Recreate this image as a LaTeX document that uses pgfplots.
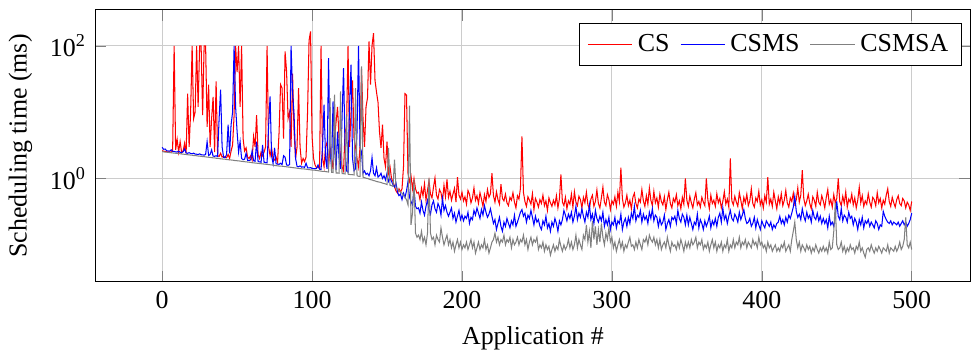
\documentclass[border=0pt]{standalone}
\usepackage{fontspec}
\setmainfont{Liberation Serif}
\usepackage{pgfplots}
\usepackage{pgfplotstable}
\pgfplotsset{compat=1.18}
\pgfplotstableread{
x r b g
0 2.62 2.95 2.55
1 2.58 2.75 2.52
2 2.55 2.78 2.50
3 2.54 2.62 2.49
4 2.50 2.60 2.47
5 2.52 2.58 2.46
6 2.49 2.70 2.44
7 2.60 2.56 2.43
8 100 2.55 2.41
9 2.70 2.52 2.40
10 3.9 2.50 2.39
11 2.5 2.58 2.37
12 3.6 2.48 2.36
13 2.45 2.46 2.34
14 2.6 2.52 2.33
15 3.4 2.8 2.31
16 2.4 2.42 2.30
17 19 2.40 2.28
18 3.0 2.45 2.27
19 10 2.38 2.25
20 100 2.36 2.24
21 8 2.41 2.22
22 10 2.33 2.21
23 100 2.32 2.20
24 12 2.30 2.18
25 100 2.35 2.17
26 100 2.28 2.16
27 9 2.27 2.14
28 100 2.25 2.13
29 100 2.30 2.12
30 6 3.6 2.10
31 26 2.22 2.09
32 3 2.30 2.08
33 8 2.7 2.06
34 17 2.17 2.05
35 2.5 2.16 2.04
36 29 2.20 2.02
37 2.2 2.14 2.01
38 2.15 8 2.00
39 2.4 21.8 1.98
40 2.1 3.0 1.97
41 2.15 2.08 1.96
42 2.1 2.06 1.95
43 2.05 2.3 1.93
44 2.3 6.5 1.92
45 2.0 2.4 1.91
46 2.6 6.5 1.90
47 3.2 10 1.89
48 9 100 1.87
49 100 12 1.86
50 40 5.1 1.85
51 100 2.5 1.84
52 12 3.6 1.83
53 100 2.0 1.81
54 4 1.92 1.80
55 2.6 1.95 1.79
56 2.9 2.4 1.78
57 2.1 1.88 1.77
58 2.0 1.87 1.76
59 2.2 1.90 1.75
60 1.9 2.6 1.73
61 4.3 1.85 1.72
62 3.0 1.82 1.71
63 9 3.6 1.70
64 2.3 1.80 1.69
65 2.0 1.78 1.68
66 2.5 1.76 1.67
67 2.2 3.2 1.66
68 2.5 1.75 1.65
69 3.0 1.74 1.64
70 100 1.72 1.63
71 3.0 6 1.62
72 2.2 17.3 1.61
73 2.9 2.2 1.60
74 2.0 1.68 1.59
75 1.9 2.9 1.57
76 2.1 1.66 1.56
77 1.75 1.65 1.55
78 5 1.63 1.54
79 26 1.70 1.53
80 23 1.62 1.53
81 4 2.2 1.52
82 82 2.1 1.51
83 41 1.60 1.50
84 8 1.58 1.49
85 10 1.62 1.48
86 3 100 1.47
87 38 20 1.46
88 5 9.2 1.45
89 2.0 2.0 1.44
90 3.0 1.52 1.43
91 23 1.50 1.42
92 3 1.55 1.41
93 1.7 1.48 1.40
94 2.0 1.50 1.40
95 1.8 1.47 1.39
96 2.1 1.7 1.38
97 10 1.45 1.37
98 120 1.44 1.36
99 165 1.46 1.35
100 4.3 1.42 1.34
101 2.0 1.41 1.34
102 1.6 1.40 1.33
103 1.45 1.42 1.32
104 1.5 1.6 1.31
105 1.4 1.38 1.30
106 100 1.37 1.29
107 2.0 3.0 1.28
108 1.5 13 1.28
109 3.0 2.0 1.27
110 3.5 1.4 1.26
111 1.5 65 1.25
112 3.0 2.5 16.3
113 2.0 1.5 1.24
114 1.4 14.5 1.23
115 4 3.0 18.3
116 7 1.35 1.21
117 12 5.1 1.21
118 4 2.0 1.20
119 2.0 1.4 20.5
120 1.5 8 1.18
121 1.3 46 1.18
122 5 3.0 1.17
123 6 1.3 9.2
124 100 1.25 1.16
125 3 12 1.15
126 10 52 1.14
127 30 2.0 1.14
128 4 1.3 1.13
129 3 1.4 23
130 2.0 5 1.10
131 1.5 100 1.08
132 3 3 1.07
133 45 2.5 49
134 8 1.2 1.04
135 3 1.3 1.03
136 12 1.15 1.01
137 16.5 1.2 1.00
138 116 1.1 0.98
139 26 1.3 0.96
140 100 2.07 0.95
141 155 1.2 0.93
142 30 1.1 0.92
143 20 1.45 0.90
144 14 1.05 0.89
145 5 1.1 0.88
146 2.9 1.2 0.87
147 6.5 1.0 0.85
148 2.0 1.1 0.84
149 1.5 0.95 0.83
150 3.6 1.2 0.81
151 1.2 0.9 2.9
152 1.5 1.0 0.79
153 1.0 0.91 0.78
154 0.9 0.8 0.76
155 0.75 0.75 1.93
156 0.65 0.85 0.72
157 0.6 0.62 0.69
158 0.7 0.55 0.66
159 0.62 0.58 0.62
160 0.7 0.48 0.60
161 1.5 0.6 0.56
162 19 0.52 0.52
163 18 0.65 0.48
164 1.2 0.9 0.40
165 0.9 0.52 12.5
166 1.1 0.45 0.20
167 0.7 0.40 0.30
168 1.0 0.70 0.95
169 0.7 0.38 0.15
170 0.6 0.35 0.13
171 0.62 0.36 0.14
172 0.48 0.30 0.12
173 0.71 0.44 0.16
174 0.55 0.33 0.11
175 0.83 0.28 0.13
176 0.47 0.38 0.10
177 0.66 0.47 0.15
178 0.92 0.34 1.00
179 0.58 0.29 0.15
180 0.51 0.40 0.12
181 0.74 0.46 0.13
182 1.02 0.35 0.10
183 0.56 0.31 0.14
184 0.49 0.42 0.12
185 0.68 0.37 0.11
186 0.61 0.28 0.18
187 0.45 0.50 0.13
188 0.79 0.33 0.10
189 0.53 0.39 0.12
190 0.97 0.31 0.14
191 0.52 0.27 0.10
192 0.64 0.31 0.12
193 0.47 0.36 0.09
194 0.58 0.25 0.11
195 0.71 0.30 0.08
196 0.44 0.22 0.10
197 1.05 0.27 0.12
198 0.56 0.33 0.09
199 0.49 0.24 0.11
200 0.62 0.28 0.085
201 0.46 0.23 0.10
202 0.53 0.27 0.09
203 0.41 0.25 0.11
204 0.66 0.31 0.085
205 0.58 0.21 0.10
206 0.43 0.26 0.12
207 0.51 0.24 0.09
208 0.72 0.33 0.11
209 0.47 0.28 0.075
210 0.55 0.36 0.09
211 0.42 0.30 0.11
212 0.61 0.25 0.085
213 0.49 0.34 0.10
214 0.38 0.28 0.09
215 0.57 0.39 0.12
216 0.45 0.31 0.085
217 0.68 0.26 0.10
218 0.52 0.29 0.075
219 0.59 0.35 0.09
220 1.20 0.27 0.11
221 0.55 0.21 0.12
222 0.44 0.24 0.15
223 0.63 0.17 0.11
224 0.48 0.21 0.13
225 0.41 0.26 0.10
226 0.82 0.19 0.12
227 0.50 0.16 0.11
228 0.46 0.22 0.14
229 0.58 0.19 0.10
230 0.43 0.25 0.12
231 0.39 0.21 0.11
232 0.52 0.18 0.13
233 0.47 0.23 0.09
234 0.61 0.20 0.12
235 0.44 0.28 0.10
236 0.36 0.19 0.11
237 0.55 0.22 0.13
238 0.49 0.26 0.10
239 0.71 0.31 0.12
240 4.30 0.34 0.11
241 0.62 0.27 0.14
242 0.45 0.30 0.10
243 0.38 0.22 0.12
244 0.53 0.28 0.085
245 0.47 0.25 0.11
246 0.41 0.33 0.13
247 0.59 0.26 0.10
248 0.34 0.20 0.12
249 0.50 0.27 0.11
250 0.44 0.22 0.13
251 0.37 0.24 0.085
252 0.48 0.19 0.10
253 0.42 0.17 0.09
254 0.56 0.23 0.11
255 0.39 0.20 0.08
256 0.46 0.27 0.10
257 0.33 0.18 0.085
258 0.51 0.21 0.095
259 0.43 0.16 0.07
260 0.38 0.22 0.085
261 0.47 0.19 0.10
262 0.40 0.25 0.08
263 0.55 0.21 0.095
264 0.36 0.16 0.085
265 0.49 0.23 0.12
266 1.15 0.20 0.095
267 0.44 0.24 0.08
268 0.39 0.33 0.10
269 0.52 0.28 0.085
270 0.35 0.23 0.095
271 0.46 0.29 0.12
272 0.41 0.25 0.09
273 0.58 0.31 0.11
274 0.37 0.22 0.085
275 0.63 0.27 0.10
276 0.44 0.38 0.14
277 0.39 0.24 0.09
278 0.54 0.30 0.12
279 0.48 0.26 0.10
280 0.36 0.35 0.085
281 0.52 0.27 0.14
282 0.43 0.22 0.12
283 0.62 0.31 0.20
284 0.40 0.26 0.11
285 0.35 0.40 0.16
286 0.49 0.24 0.09
287 0.56 0.29 0.23
288 0.38 0.21 0.12
289 0.45 0.33 0.19
290 0.67 0.25 0.10
291 0.42 0.22 0.17
292 0.36 0.27 0.11
293 0.51 0.23 0.21
294 0.74 0.31 0.13
295 0.44 0.19 0.10
296 0.39 0.24 0.15
297 0.57 0.20 0.12
298 0.48 0.26 0.18
299 0.34 0.17 0.11
300 0.46 0.22 0.13
301 0.41 0.20 0.09
302 0.53 0.26 0.11
303 0.38 0.18 0.08
304 0.62 0.23 0.10
305 0.45 0.21 0.12
306 1.46 0.29 0.09
307 0.50 0.17 0.11
308 0.37 0.22 0.08
309 0.43 0.25 0.10
310 0.56 0.19 0.09
311 0.39 0.26 0.11
312 0.47 0.21 0.13
313 0.35 0.30 0.095
314 0.52 0.25 0.10
315 0.60 0.38 0.085
316 0.42 0.23 0.11
317 0.36 0.28 0.09
318 0.49 0.26 0.12
319 0.44 0.33 0.10
320 0.68 0.22 0.085
321 0.46 0.29 0.12
322 0.38 0.24 0.11
323 0.55 0.27 0.13
324 0.41 0.21 0.10
325 0.72 0.31 0.14
326 0.47 0.25 0.12
327 0.39 0.35 0.11
328 0.64 0.23 0.13
329 0.43 0.28 0.10
330 0.51 0.26 0.12
331 0.37 0.19 0.09
332 0.58 0.25 0.12
333 0.45 0.20 0.085
334 0.40 0.22 0.10
335 0.53 0.28 0.11
336 0.34 0.17 0.09
337 0.48 0.21 0.13
338 0.62 0.24 0.10
339 0.42 0.19 0.08
340 0.36 0.26 0.11
341 0.50 0.24 0.095
342 0.44 0.27 0.10
343 0.57 0.21 0.085
344 0.39 0.33 0.11
345 0.46 0.25 0.09
346 0.35 0.22 0.12
347 0.52 0.29 0.10
348 0.41 0.26 0.08
349 1.00 0.20 0.11
350 0.47 0.28 0.09
351 0.38 0.20 0.11
352 0.54 0.26 0.09
353 0.43 0.21 0.12
354 0.36 0.17 0.10
355 0.49 0.22 0.11
356 0.61 0.20 0.13
357 0.40 0.29 0.09
358 0.45 0.18 0.11
359 0.37 0.24 0.10
360 0.52 0.21 0.12
361 0.44 0.17 0.085
362 0.39 0.23 0.10
363 1.00 0.19 0.09
364 0.48 0.22 0.11
365 0.35 0.27 0.08
366 0.56 0.18 0.10
367 0.42 0.23 0.12
368 0.47 0.20 0.09
369 0.38 0.25 0.11
370 0.59 0.19 0.08
371 0.43 0.26 0.10
372 0.50 0.30 0.09
373 0.36 0.22 0.11
374 0.45 0.36 0.08
375 0.63 0.24 0.10
376 0.41 0.28 0.09
377 0.49 0.21 0.12
378 0.37 0.27 0.08
379 2.00 0.33 0.10
380 0.46 0.25 0.09
381 0.40 0.23 0.12
382 0.54 0.29 0.09
383 0.44 0.26 0.11
384 0.38 0.22 0.10
385 0.61 0.31 0.13
386 0.47 0.24 0.09
387 0.35 0.28 0.11
388 0.52 0.34 0.10
389 0.43 0.25 0.12
390 0.58 0.21 0.09
391 0.39 0.22 0.11
392 0.46 0.25 0.10
393 0.70 0.19 0.09
394 0.42 0.21 0.12
395 0.37 0.26 0.10
396 0.51 0.18 0.11
397 0.45 0.24 0.09
398 0.64 0.20 0.13
399 0.40 0.17 0.10
400 0.48 0.23 0.11
401 0.36 0.20 0.09
402 0.55 0.18 0.10
403 0.44 0.23 0.08
404 1.05 0.21 0.11
405 0.41 0.19 0.09
406 0.49 0.22 0.10
407 0.38 0.17 0.08
408 0.62 0.20 0.09
409 0.46 0.18 0.10
410 0.35 0.21 0.08
411 0.53 0.22 0.09
412 0.42 0.27 0.08
413 0.59 0.21 0.10
414 0.39 0.24 0.09
415 0.47 0.20 0.11
416 0.66 0.26 0.08
417 0.43 0.22 0.09
418 0.37 0.28 0.10
419 0.51 0.25 0.08
420 0.45 0.30 0.12
421 0.60 0.37 0.16
422 0.41 0.54 0.22
423 0.48 0.32 0.12
424 0.72 0.26 0.09
425 0.44 0.29 0.11
426 0.56 0.24 0.08
427 1.33 0.35 0.10
428 0.50 0.27 0.09
429 0.39 0.23 0.08
430 0.46 0.31 0.10
431 0.58 0.25 0.085
432 0.42 0.28 0.095
433 0.35 0.22 0.075
434 0.53 0.33 0.09
435 0.47 0.26 0.08
436 0.38 0.24 0.10
437 0.62 0.30 0.085
438 0.44 0.23 0.075
439 0.40 0.27 0.09
440 0.55 0.21 0.08
441 0.46 0.25 0.095
442 0.36 0.21 0.08
443 0.52 0.24 0.09
444 0.68 0.18 0.075
445 0.41 0.27 0.11
446 0.48 0.20 0.085
447 0.37 0.22 0.09
448 0.57 0.19 0.16
449 0.43 0.26 0.43
450 0.50 0.45 0.10
451 1.00 0.27 0.085
452 0.45 0.24 0.09
453 0.39 0.35 0.11
454 0.54 0.23 0.08
455 0.42 0.28 0.095
456 0.63 0.26 0.075
457 0.37 0.22 0.09
458 0.49 0.31 0.08
459 0.44 0.25 0.10
460 0.58 0.27 0.085
461 0.40 0.20 0.09
462 0.51 0.25 0.075
463 0.36 0.22 0.095
464 0.47 0.17 0.085
465 0.74 0.24 0.11
466 0.43 0.20 0.08
467 0.55 0.26 0.09
468 0.38 0.18 0.075
469 0.46 0.23 0.065
470 0.41 0.21 0.085
471 0.59 0.24 0.09
472 0.44 0.19 0.08
473 0.37 0.22 0.10
474 0.52 0.20 0.085
475 0.48 0.18 0.075
476 0.39 0.23 0.09
477 0.61 0.21 0.08
478 0.43 0.17 0.095
479 0.50 0.20 0.085
480 0.36 0.19 0.075
481 0.47 0.32 0.09
482 0.41 0.27 0.085
483 0.56 0.24 0.08
484 0.70 0.22 0.10
485 0.45 0.21 0.075
486 0.38 0.23 0.09
487 0.52 0.20 0.085
488 0.43 0.22 0.08
489 0.37 0.21 0.095
490 0.48 0.20 0.08
491 0.55 0.22 0.09
492 0.42 0.19 0.11
493 0.39 0.21 0.085
494 0.50 0.23 0.095
495 0.46 0.20 0.12
496 0.36 0.22 0.26
497 0.44 0.19 0.10
498 0.40 0.21 0.09
499 0.33 0.24 0.11
500 0.45 0.30 0.085
}\datatable
\begin{document}
\begin{tikzpicture}
\begin{axis}[
  scale only axis,
  width=337.7pt, height=105pt,
  ymode=log,
  xmin=-44.5, xmax=539.2,
  ymin=0.0276, ymax=348,
  xtick={0,100,200,300,400,500},
  ytick={1,100},
  yticklabels={10\textsuperscript{0},10\textsuperscript{2}},
  /pgf/number format/assume math mode=true,
  grid=major,
  major grid style={gray!40},
  xlabel={Application \#},
  ylabel={Scheduling time (ms)},
  legend columns=3,
  legend style={at={(0.99,0.95)}, anchor=north east, draw=black, /tikz/every even column/.append style={column sep=2pt}},
  legend cell align=left,
]
\addplot[red, line width=0.4pt] table[x=x, y=r] {\datatable};
\addlegendentry{CS}
\addplot[blue, line width=0.4pt] table[x=x, y=b] {\datatable};
\addlegendentry{CSMS}
\addplot[gray, line width=0.4pt] table[x=x, y=g] {\datatable};
\addlegendentry{CSMSA}
\end{axis}
\path ([yshift=3.8pt]current axis.north);
\end{tikzpicture}
\end{document}
